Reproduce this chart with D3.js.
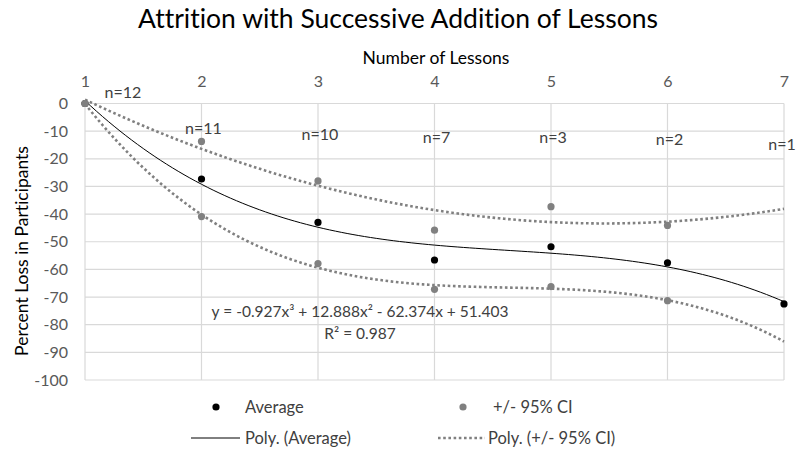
<!DOCTYPE html>
<html><head><meta charset="utf-8">
<script src="https://cdn.jsdelivr.net/npm/d3@7"></script>
<style>
body{margin:0;background:#fff;}
text{font-family:Lato,"Open Sans",sans-serif;font-variant-ligatures:none;}
</style></head>
<body><svg id="chart" width="796" height="449"></svg>
<script>
// ---- data ----
const lessons = [1, 2, 3, 4, 5, 6, 7];
const average = [0, -27.3, -43.0, -56.6, -51.8, -57.6, -72.5];
const ciLessons = [1, 2, 3, 4, 5, 6];
const ciUpper = [0, -13.7, -28.0, -45.8, -37.3, -44.1];
const ciLower = [0, -40.9, -57.9, -67.2, -66.2, -71.3];
const ciUpperOrder = 2;
const ciLowerOrder = 3;
const nLabels = ["n=12", "n=11", "n=10", "n=7", "n=3", "n=2", "n=1"];
const nLabelY = [3.8, -9.2, -11.2, -12.4, -12.4, -13.2, -14.8];
const avgTrendCoef = [-0.927, 12.888, -62.374, 51.403]; // x^3, x^2, x, const
const rSquared = 0.987;
const yTicks = [0, -10, -20, -30, -40, -50, -60, -70, -80, -90, -100];
const xTicks = [1, 2, 3, 4, 5, 6, 7];

// ---- helpers ----
function polyFit(xs, ys, order) {
  // least squares polynomial: returns coefficients highest power first
  const n = order + 1, A = [], b = [];
  for (let i = 0; i < n; i++) {
    A.push([]);
    for (let j = 0; j < n; j++) A[i].push(d3.sum(xs, x => Math.pow(x, i + j)));
    b.push(d3.sum(xs, (x, k) => ys[k] * Math.pow(x, i)));
  }
  for (let i = 0; i < n; i++) {
    let p = i;
    for (let r = i + 1; r < n; r++) if (Math.abs(A[r][i]) > Math.abs(A[p][i])) p = r;
    [A[i], A[p]] = [A[p], A[i]]; [b[i], b[p]] = [b[p], b[i]];
    for (let r = i + 1; r < n; r++) {
      const f = A[r][i] / A[i][i];
      for (let c = i; c < n; c++) A[r][c] -= f * A[i][c];
      b[r] -= f * b[i];
    }
  }
  const c = new Array(n).fill(0);
  for (let i = n - 1; i >= 0; i--) {
    let s = b[i];
    for (let j = i + 1; j < n; j++) s -= A[i][j] * c[j];
    c[i] = s / A[i][i];
  }
  return c.reverse();
}
const poly = (co, x) => co.reduce((acc, c) => acc * x + c, 0);

// ---- layout ----
const svg = d3.select("#chart");
const x = d3.scaleLinear().domain([1, 7]).range([85, 784]);
const y = d3.scaleLinear().domain([-100, 0]).range([380, 103.5]);

// titles
svg.append("text").attr("x", 398).attr("y", 28).attr("text-anchor", "middle")
  .style("font-size", "26.5px").attr("fill", "#000").text("Attrition with Successive Addition of Lessons");
svg.append("text").attr("x", 436).attr("y", 64).attr("text-anchor", "middle")
  .style("font-size", "17.5px").attr("fill", "#000").text("Number of Lessons");
svg.append("text").attr("transform", "translate(28,251) rotate(-90)").attr("text-anchor", "middle")
  .style("font-size", "17.5px").attr("fill", "#000").text("Percent Loss in Participants");

// grid
const grid = svg.append("g").attr("stroke", "#d9d9d9").attr("stroke-width", 1.2);
grid.selectAll(".hg").data(yTicks).join("line")
  .attr("x1", x(1)).attr("x2", x(7)).attr("y1", d => y(d)).attr("y2", d => y(d));
grid.selectAll(".vg").data(xTicks).join("line")
  .attr("y1", y(0)).attr("y2", y(-100)).attr("x1", d => x(d)).attr("x2", d => x(d));

// axes
const yAxis = svg.append("g").attr("transform", `translate(${x(1)},0)`)
  .call(d3.axisLeft(y).tickValues(yTicks).tickFormat(d => String(d)).tickSize(0).tickPadding(17));
yAxis.select(".domain").remove();
yAxis.selectAll("text").style("font-size", "16px").attr("fill", "#595959").style("font-family", "Lato");
const xAxis = svg.append("g").attr("transform", `translate(0,${y(0)})`)
  .call(d3.axisTop(x).tickValues(xTicks).tickFormat(d => String(d)).tickSize(0).tickPadding(17));
xAxis.select(".domain").remove();
xAxis.selectAll("text").style("font-size", "16px").attr("fill", "#595959").style("font-family", "Lato");

// trendlines
const xs = d3.range(1, 7.0001, 0.05);
const line = d3.line().x(d => x(d[0])).y(d => y(d[1]));
const upCo = polyFit(ciLessons, ciUpper, ciUpperOrder);
const loCo = polyFit(ciLessons, ciLower, ciLowerOrder);
[upCo, loCo].forEach(co => {
  svg.append("path").attr("d", line(xs.map(v => [v, poly(co, v)])))
    .attr("fill", "none").attr("stroke", "#808080").attr("stroke-width", 2.6)
    .attr("stroke-dasharray", "2.6,2.6");
});
svg.append("path").attr("d", line(xs.map(v => [v, poly(avgTrendCoef, v)])))
  .attr("fill", "none").attr("stroke", "#000").attr("stroke-width", 1);

// points
svg.append("g").selectAll("circle").data(lessons.map((l, i) => [l, average[i]])).join("circle")
  .attr("cx", d => x(d[0])).attr("cy", d => y(d[1])).attr("r", 3.6).attr("fill", "#000");
const ciPts = ciLessons.map((l, i) => [l, ciUpper[i]]).concat(ciLessons.map((l, i) => [l, ciLower[i]]));
svg.append("g").selectAll("circle").data(ciPts).join("circle")
  .attr("cx", d => x(d[0])).attr("cy", d => y(d[1])).attr("r", 3.6).attr("fill", "#808080");

// n labels
svg.append("g").selectAll("text").data(nLabels).join("text")
  .attr("x", (d, i) => x(lessons[i]) + (i === 0 ? 38 : (i === 6 ? -2 : 2))).attr("y", (d, i) => y(nLabelY[i]) + 5.5)
  .attr("text-anchor", "middle").style("font-size", "16px").attr("fill", "#404040").text(d => d);

// equation
const f = v => Math.abs(v).toFixed(3);
const sgn = v => v < 0 ? " - " : " + ";
const eq = `y = ${avgTrendCoef[0] < 0 ? "-" : ""}${f(avgTrendCoef[0])}x³${sgn(avgTrendCoef[1])}${f(avgTrendCoef[1])}x²${sgn(avgTrendCoef[2])}${f(avgTrendCoef[2])}x${sgn(avgTrendCoef[3])}${f(avgTrendCoef[3])}`;
svg.append("text").attr("x", 360).attr("y", 317).attr("text-anchor", "middle")
  .style("font-size", "15.5px").attr("fill", "#404040").text(eq);
svg.append("text").attr("x", 360).attr("y", 339).attr("text-anchor", "middle")
  .style("font-size", "15.5px").attr("fill", "#404040").text(`R² = ${rSquared}`);

// legend
const lg = svg.append("g").style("font-size", "16.5px").attr("fill", "#404040");
lg.append("circle").attr("cx", 216).attr("cy", 407).attr("r", 3.6).attr("fill", "#000");
lg.append("text").attr("x", 245).attr("y", 412.5).text("Average");
lg.append("circle").attr("cx", 463).attr("cy", 407).attr("r", 3.6).attr("fill", "#808080");
lg.append("text").attr("x", 493).attr("y", 412.5).text("+/- 95% CI");
lg.append("line").attr("x1", 191).attr("x2", 240).attr("y1", 438).attr("y2", 438).attr("stroke", "#000").attr("stroke-width", 1);
lg.append("text").attr("x", 245).attr("y", 443.5).text("Poly. (Average)");
lg.append("line").attr("x1", 438).attr("x2", 485).attr("y1", 438).attr("y2", 438).attr("stroke", "#808080").attr("stroke-width", 2.6).attr("stroke-dasharray", "2.6,2.6");
lg.append("text").attr("x", 488).attr("y", 443.5).text("Poly. (+/- 95% CI)");
</script></body></html>
